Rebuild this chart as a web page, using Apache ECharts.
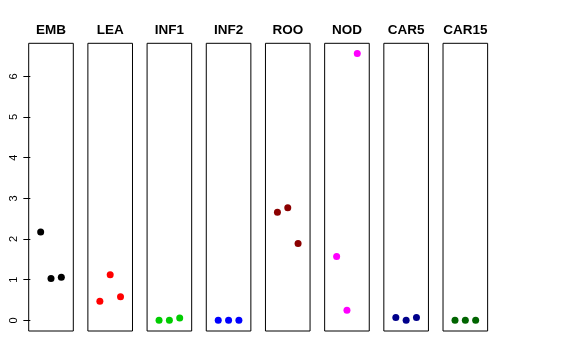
<!DOCTYPE html>
<html>
<head>
<meta charset="utf-8">
<script src="https://cdn.jsdelivr.net/npm/echarts@6/dist/echarts.min.js"></script>
<style>html,body{margin:0;padding:0;background:#fff}#c{width:576px;height:360px}</style>
</head>
<body>
<div id="c"></div>
<script>
const categories = ['EMB', 'LEA', 'INF1', 'INF2', 'ROO', 'NOD', 'CAR5', 'CAR15'];
const xPositions = [1, 2, 3];
const embValues = [2.17, 1.03, 1.06];
const leaValues = [0.47, 1.12, 0.58];
const inf1Values = [0.0, 0.0, 0.06];
const inf2Values = [0.0, 0.0, 0.0];
const rooValues = [2.66, 2.77, 1.89];
const nodValues = [1.57, 0.25, 6.56];
const car5Values = [0.07, 0.0, 0.07];
const car15Values = [0.0, 0.0, 0.0];
const yTicks = [0, 1, 2, 3, 4, 5, 6];
const colors = ['#000000', '#FF0000', '#00CD00', '#0000FF', '#8B0000', '#FF00FF', '#00008B', '#006400'];

const seriesValues = [embValues, leaValues, inf1Values, inf2Values, rooValues, nodValues, car5Values, car15Values];

const yMin = -0.262, yMax = 6.812;
const xMin = -0.16, xMax = 4.16;
const panelLeft0 = 28.7, panelStep = 59.19, panelW = 44.6, panelTop = 43.3, panelH = 287.7;

const grids = [], xAxes = [], yAxes = [], series = [], graphics = [];
categories.forEach((cat, i) => {
  const left = panelLeft0 + panelStep * i;
  grids.push({ left: left, top: panelTop, width: panelW, height: panelH, show: true, borderColor: '#000', borderWidth: 1, backgroundColor: 'transparent' });
  xAxes.push({ gridIndex: i, type: 'value', min: xMin, max: xMax, show: false });
  yAxes.push({
    gridIndex: i, type: 'value', min: yMin, max: yMax, show: i === 0,
    axisLine: { show: false },
    splitLine: { show: false },
    axisTick: { show: true, inside: false, length: 7, lineStyle: { color: '#000' }, customValues: yTicks },
    axisLabel: { show: true, rotate: 90, margin: 9, fontFamily: 'Liberation Sans', fontSize: 11, color: '#000', customValues: yTicks }
  });
  series.push({
    type: 'scatter', xAxisIndex: i, yAxisIndex: i,
    symbol: 'circle', symbolSize: 7,
    itemStyle: { color: colors[i], opacity: 1 },
    data: xPositions.map((x, k) => [x, seriesValues[i][k]]),
    silent: true
  });
  graphics.push({
    type: 'text', x: left + panelW / 2, y: 23.5,
    style: { text: cat, textAlign: 'center', textVerticalAlign: 'top', fontFamily: 'Liberation Sans', fontWeight: 'bold', fontSize: 13.5, fill: '#000' }
  });
});

const chart = echarts.init(document.getElementById('c'), null, { renderer: 'canvas' });
chart.setOption({
  animation: false,
  backgroundColor: '#fff',
  grid: grids,
  xAxis: xAxes,
  yAxis: yAxes,
  series: series,
  graphic: graphics
});
</script>
</body>
</html>
